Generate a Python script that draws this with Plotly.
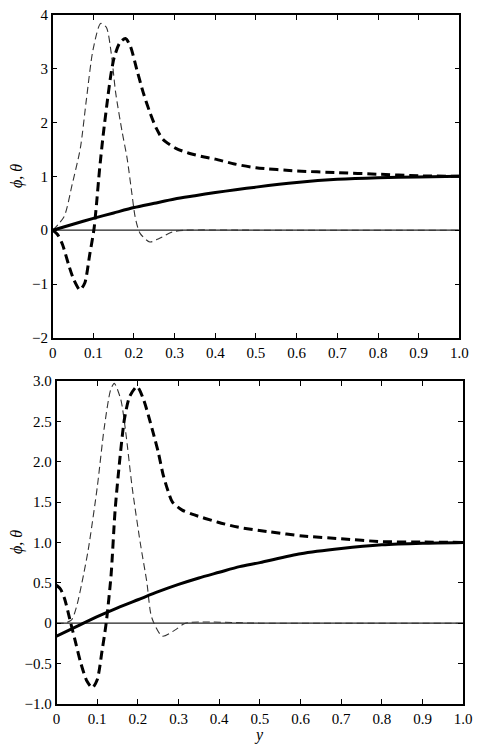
import plotly.graph_objects as go

# ---------------- data: top panel ----------------
top_theta_x = [0, 0.05, 0.1, 0.15, 0.2, 0.25, 0.3, 0.35, 0.4, 0.45, 0.5, 0.6, 0.7, 0.8, 0.9, 1.0]
top_theta_y = [0, 0.11, 0.22, 0.32, 0.42, 0.50, 0.58, 0.64, 0.70, 0.75, 0.80, 0.885, 0.945, 0.976, 0.99, 1.0]

top_thick_dash_x = [0, 0.012, 0.024, 0.04, 0.052, 0.067, 0.079, 0.091, 0.102, 0.108, 0.115, 0.124,
                    0.136, 0.143, 0.151, 0.165, 0.179, 0.191, 0.207, 0.223, 0.239, 0.255, 0.271,
                    0.303, 0.335, 0.367, 0.4, 0.447, 0.5, 0.6, 0.7, 0.8, 0.9, 1.0]
top_thick_dash_y = [0, -0.08, -0.26, -0.66, -0.92, -1.11, -0.98, -0.46, 0.04, 0.5, 1.1, 1.75,
                    2.49, 2.88, 3.2, 3.48, 3.56, 3.42, 2.98, 2.55, 2.19, 1.89, 1.69,
                    1.52, 1.43, 1.37, 1.32, 1.23, 1.16, 1.10, 1.07, 1.04, 1.01, 1.0]

top_thin_dash_x = [0, 0.028, 0.048, 0.068, 0.083, 0.099, 0.118, 0.132, 0.144, 0.155, 0.171, 0.183,
                   0.195, 0.203, 0.215, 0.239, 0.263, 0.295, 0.327, 0.5, 0.7, 1.0]
top_thin_dash_y = [0, 0.25, 0.85, 1.52, 2.43, 3.34, 3.84, 3.77, 3.29, 2.55, 1.82, 1.34,
                   0.67, 0.24, -0.06, -0.22, -0.15, -0.03, 0, 0, 0, 0]

top_thin_solid_x = [0, 1.0]
top_thin_solid_y = [0, 0]

# ---------------- data: bottom panel ----------------
bot_theta_x = [0, 0.05, 0.1, 0.15, 0.2, 0.25, 0.3, 0.35, 0.4, 0.45, 0.5, 0.6, 0.7, 0.8, 0.9, 1.0]
bot_theta_y = [-0.16, -0.04, 0.08, 0.19, 0.29, 0.39, 0.48, 0.56, 0.63, 0.70, 0.75, 0.86, 0.925, 0.97, 0.99, 1.0]

bot_thick_dash_x = [0, 0.01, 0.02, 0.035, 0.045, 0.06, 0.075, 0.088, 0.1, 0.112, 0.122, 0.134,
                    0.144, 0.155, 0.167, 0.18, 0.198, 0.214, 0.226, 0.238, 0.25, 0.262, 0.274,
                    0.285, 0.309, 0.333, 0.397, 0.445, 0.525, 0.605, 0.7, 0.8, 0.9, 1.0]
bot_thick_dash_y = [0.47, 0.42, 0.3, 0.0, -0.2, -0.5, -0.72, -0.8, -0.7, -0.34, 0.0, 0.59,
                    1.40, 2.0, 2.53, 2.81, 2.93, 2.77, 2.57, 2.35, 2.12, 1.84, 1.64,
                    1.50, 1.40, 1.35, 1.25, 1.19, 1.13, 1.08, 1.045, 1.01, 1.005, 1.0]

bot_thin_dash_x = [0, 0.02, 0.037, 0.05, 0.066, 0.078, 0.1, 0.117, 0.133, 0.142, 0.158, 0.17,
                   0.186, 0.206, 0.222, 0.234, 0.26, 0.293, 0.317, 0.5, 0.7, 1.0]
bot_thin_dash_y = [0, 0, 0.04, 0.22, 0.59, 0.91, 1.68, 2.41, 2.89, 2.97, 2.77, 2.37,
                   1.68, 0.99, 0.51, 0.07, -0.16, -0.08, 0, 0, 0, 0]

bot_thin_solid_x = [0, 1.0]
bot_thin_solid_y = [0, 0]

# tick labels
x_tickvals = [0, 0.1, 0.2, 0.3, 0.4, 0.5, 0.6, 0.7, 0.8, 0.9, 1.0]
x_ticktext = ["0", "0.1", "0.2", "0.3", "0.4", "0.5", "0.6", "0.7", "0.8", "0.9", "1.0"]
top_y_tickvals = [-2, -1, 0, 1, 2, 3, 4]
top_y_ticktext = ["\u22122", "\u22121", "0", "1", "2", "3", "4"]
bot_y_tickvals = [-1.0, -0.5, 0, 0.5, 1.0, 1.5, 2.0, 2.5, 3.0]
bot_y_ticktext = ["\u22121.0", "\u22120.5", "0", "0.5", "1.0", "1.5", "2.0", "2.5", "3.0"]

W, H = 481, 755
FONT = "Liberation Serif"

fig = go.Figure()

def add_set(xa, ya, thin_solid, theta, thick_dash, thin_dash):
    fig.add_trace(go.Scatter(x=thin_solid[0], y=thin_solid[1], mode="lines",
                             line=dict(color="#222222", width=1.2),
                             xaxis=xa, yaxis=ya, showlegend=False))
    fig.add_trace(go.Scatter(x=thin_dash[0], y=thin_dash[1], mode="lines",
                             line=dict(color="#333333", width=1.1, dash="7px,4px",
                                       shape="spline", smoothing=0.7),
                             xaxis=xa, yaxis=ya, showlegend=False))
    fig.add_trace(go.Scatter(x=theta[0], y=theta[1], mode="lines",
                             line=dict(color="black", width=3, shape="spline", smoothing=0.7),
                             xaxis=xa, yaxis=ya, showlegend=False))
    fig.add_trace(go.Scatter(x=thick_dash[0], y=thick_dash[1], mode="lines",
                             line=dict(color="black", width=3, dash="9px,5px",
                                       shape="spline", smoothing=0.7),
                             xaxis=xa, yaxis=ya, showlegend=False))

add_set("x", "y", (top_thin_solid_x, top_thin_solid_y), (top_theta_x, top_theta_y),
        (top_thick_dash_x, top_thick_dash_y), (top_thin_dash_x, top_thin_dash_y))
add_set("x2", "y2", (bot_thin_solid_x, bot_thin_solid_y), (bot_theta_x, bot_theta_y),
        (bot_thick_dash_x, bot_thick_dash_y), (bot_thin_dash_x, bot_thin_dash_y))

axis_common = dict(showline=True, linecolor="black", linewidth=1.5, mirror="ticks",
                   ticks="inside", ticklen=5, tickwidth=1, tickcolor="black",
                   showgrid=False, zeroline=False,
                   tickfont=dict(family=FONT, size=15, color="black"))

fig.update_layout(
    width=W, height=H,
    margin=dict(l=0, r=0, t=0, b=0),
    paper_bgcolor="white", plot_bgcolor="white",
    font=dict(family=FONT, color="black"),
    xaxis=dict(domain=[50 / W, 468 / W], range=[0, 1], anchor="y",
               tickvals=x_tickvals, ticktext=x_ticktext, **axis_common),
    yaxis=dict(domain=[1 - 337 / H, 1 - 7 / H], range=[-2, 4], anchor="x",
               tickvals=top_y_tickvals, ticktext=top_y_ticktext, **axis_common),
    xaxis2=dict(domain=[54 / W, 472 / W], range=[0, 1], anchor="y2",
                tickvals=x_tickvals, ticktext=x_ticktext, **axis_common),
    yaxis2=dict(domain=[1 - 711 / H, 1 - 381 / H], range=[-1, 3], anchor="x2",
                tickvals=bot_y_tickvals, ticktext=bot_y_ticktext, **axis_common),
    annotations=[
        dict(text="<i>ϕ</i>, <i>θ</i>", x=14 / W, y=1 - 172 / H, xref="paper", yref="paper",
             xanchor="center", yanchor="middle",
             showarrow=False, textangle=-90, font=dict(family=FONT, size=16, color="black")),
        dict(text="<i>ϕ</i>, <i>θ</i>", x=14 / W, y=1 - 546 / H, xref="paper", yref="paper",
             xanchor="center", yanchor="middle",
             showarrow=False, textangle=-90, font=dict(family=FONT, size=16, color="black")),
        dict(text="<i>y</i>", x=262 / W, y=1 - 743 / H, xref="paper", yref="paper",
             xanchor="center", yanchor="middle",
             showarrow=False, font=dict(family=FONT, size=16, color="black")),
    ],
)

fig.write_html("out.html")
